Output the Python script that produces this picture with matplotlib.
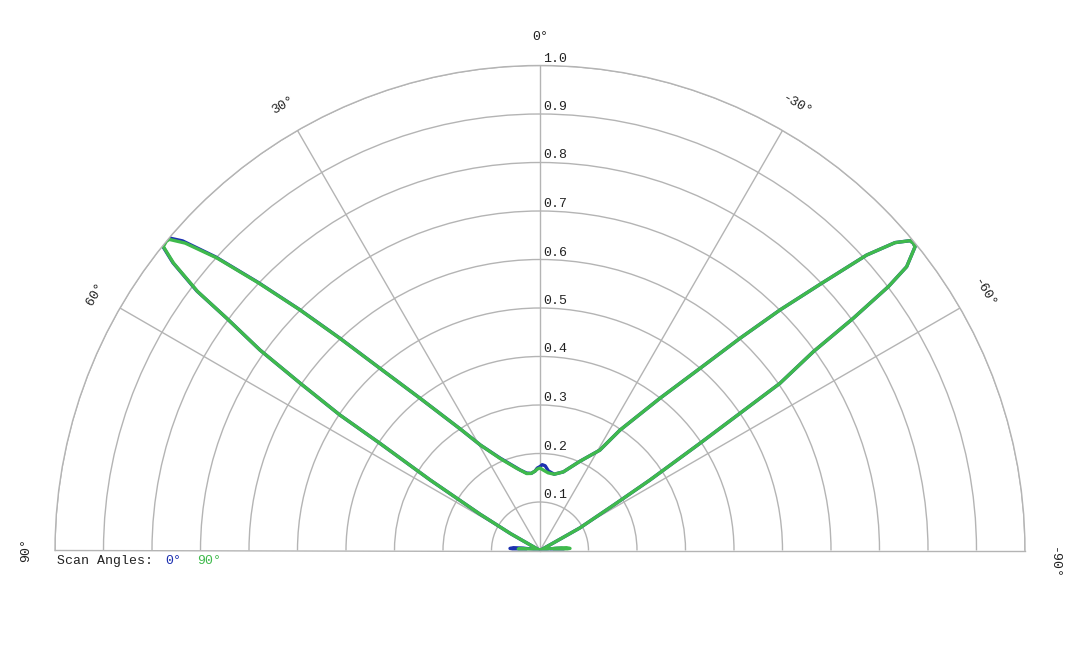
import numpy as np
import matplotlib
matplotlib.use("Agg")
import matplotlib.pyplot as plt
from matplotlib.transforms import offset_copy

plt.rcParams['font.family'] = ['Liberation Mono', 'DejaVu Sans Mono']

# beam pattern: angle in degrees (positive = left), normalised level
theta_0 = [90, 88, 86, 84, 82, 80, 78, 72, 62, 60.2, 58.8, 57.3, 56.2, 55.9, 55.1,
           54.4, 53.45, 52.9, 51.9, 51.1, 50.4, 50.0, 49.1, 47.85, 46.45, 44.94,
           43.3, 41.3, 38.25, 33.3, 29.5, 23.45, 15.8, 13.9, 9.8, 6.5, 3.6, 1.9,
           0, -1.5, -3.5, -6, -10.5, -16.5, -24, -30.8, -33.6, -38.25, -41.3,
           -43.3, -44.94, -46.5, -47.87, -49.07, -50.06, -50.55, -51.0, -52.26,
           -52.86, -53.45, -53.97, -55.13, -55.55, -56.18, -57.34, -58.3, -60.5,
           -63, -72, -78, -80, -82, -84, -86, -88, -90]
level_0 = [0.03, 0.055, 0.062, 0.055, 0.035, 0.015, 0.0, 0.0, 0.0, 0.07, 0.145,
           0.269, 0.397, 0.498, 0.603, 0.71, 0.804, 0.887, 0.962, 1.0, 1.006,
           1.004, 0.975, 0.902, 0.803, 0.702, 0.601, 0.5, 0.4, 0.3, 0.25, 0.208,
           0.177, 0.171, 0.162, 0.16, 0.164, 0.17, 0.173, 0.177, 0.175, 0.165,
           0.16, 0.169, 0.201, 0.241, 0.298, 0.4, 0.5, 0.601, 0.701, 0.8, 0.908,
           0.969, 0.995, 0.997, 0.995, 0.956, 0.901, 0.804, 0.697, 0.603, 0.5,
           0.397, 0.269, 0.181, 0.094, 0.0, 0.0, 0.0, 0.01, 0.03, 0.045, 0.05,
           0.045, 0.025]

theta_90 = [90, 88, 86, 84, 82, 80, 78, 72, 62, 60.2, 58.8, 57.3, 56.2, 55.9, 55.1,
            54.4, 53.45, 52.9, 51.9, 51.1, 50.4, 50.0, 49.1, 47.85, 46.45, 44.94,
            43.3, 41.3, 38.25, 33.3, 29.5, 23.45, 15.8, 13.9, 9.8, 6.5, 3.6, 1.9,
            0, -2.3, -6, -10.5, -16.5, -24, -30.8, -33.6, -38.25, -41.3, -43.3,
            -44.94, -46.5, -47.87, -49.07, -50.06, -50.55, -51.0, -52.26, -52.86,
            -53.45, -53.97, -55.13, -55.55, -56.18, -57.34, -58.3, -60.5, -63,
            -72, -78, -80, -82, -84, -86, -88, -90]
level_90 = [0.02, 0.035, 0.045, 0.04, 0.025, 0.01, 0.0, 0.0, 0.0, 0.07, 0.145,
            0.269, 0.397, 0.498, 0.603, 0.71, 0.804, 0.885, 0.96, 0.998, 1.0,
            0.998, 0.968, 0.899, 0.801, 0.701, 0.6, 0.5, 0.4, 0.3, 0.25, 0.207,
            0.176, 0.171, 0.161, 0.16, 0.164, 0.168, 0.17, 0.166, 0.161, 0.16,
            0.169, 0.201, 0.241, 0.298, 0.4, 0.5, 0.601, 0.701, 0.8, 0.908, 0.969,
            0.995, 0.997, 0.995, 0.956, 0.901, 0.804, 0.697, 0.603, 0.5, 0.397,
            0.269, 0.181, 0.094, 0.0, 0.0, 0.0, 0.015, 0.035, 0.055, 0.062,
            0.055, 0.03]

ring_values = [0.1, 0.2, 0.3, 0.4, 0.5, 0.6, 0.7, 0.8, 0.9, 1.0]
spoke_angles = [-60, -30, 0, 30, 60]
angle_labels = {0: "0°", 30: "30°", 60: "60°", 90: "90°",
                -30: "-30°", -60: "-60°", -90: "-90°"}

blue = "#1c30b0"
green = "#3fba4c"
grey = "#b4b4b4"

fig = plt.figure(figsize=(10.8, 6.48), dpi=100)
# matplotlib centres the half disc inside a square box, so the square is
# 970 px wide and centred 242.5 px above the origin (origin at 540, 550.5)
side = 970
cy = 550.5 - 242.5
ax = fig.add_axes([55 / 1080, (648 - cy - side / 2) / 648, side / 1080, side / 648],
                  projection="polar")
ax.set_theta_zero_location("N")
ax.set_theta_direction(1)
ax.set_thetamin(-90)
ax.set_thetamax(90)
ax.set_ylim(0, 1)
ax.set_xticks(np.deg2rad(spoke_angles))
ax.set_xticklabels([])
ax.set_yticks(ring_values)
ax.set_yticklabels([])
ax.tick_params(length=0)
ax.grid(True, color=grey, lw=1)
for s in ax.spines.values():
    s.set_color(grey)
    s.set_linewidth(1)

ax.plot(np.deg2rad(theta_0), level_0, color=blue, lw=2.4, solid_joinstyle="round")
ax.plot(np.deg2rad(theta_90), level_90, color=green, lw=2.4, solid_joinstyle="round")

# ring labels along the 0 deg spoke
lab_tr = offset_copy(ax.transData, fig=fig, x=3, y=7, units="dots")
for r in ring_values:
    ax.text(0, r, f"{r:.1f}", transform=lab_tr, ha="left", va="center",
            fontsize=9.5, color="#222222")

# angle labels round the rim
for a, txt in angle_labels.items():
    pos = a
    if a == -90:
        pos = -91.4
    ax.text(np.deg2rad(pos), 1.059, txt, rotation=a, ha="center", va="center",
            rotation_mode="anchor", fontsize=9.5, color="#222222", clip_on=False)

# legend line under the plot
ly = 1 - 560.7 / 648
fig.text(56.7 / 1080, ly, "Scan Angles:", ha="left", va="center", fontsize=9.5, color="#222222")
fig.text(165 / 1080, ly, "0°", ha="left", va="center", fontsize=9.5, color=blue)
fig.text(197 / 1080, ly, "90°", ha="left", va="center", fontsize=9.5, color=green)

fig.savefig("out.png", dpi=100)
